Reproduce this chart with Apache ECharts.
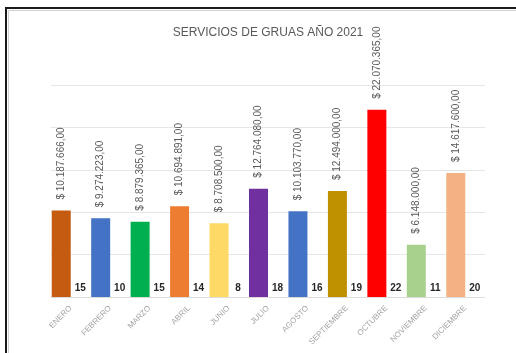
<!DOCTYPE html>
<html>
<head>
<meta charset="utf-8">
<script src="https://cdn.jsdelivr.net/npm/echarts@6/dist/echarts.min.js"></script>
<style>
  html, body { margin: 0; padding: 0; background: #ffffff; }
  #chart { width: 516px; height: 353px; }
</style>
</head>
<body>
<div id="chart"></div>
<script>
// Monthly tow-truck services, 2021
const meses = ['ENERO', 'FEBRERO', 'MARZO', 'ABRIL', 'JUNIO', 'JULIO', 'AGOSTO',
  'SEPTIEMBRE', 'OCTUBRE', 'NOVIEMBRE', 'DICIEMBRE'];
const montos = [10187666, 9274223, 8879365, 10694891, 8708500, 12764080, 10103770,
  12494000, 22070365, 6148000, 14617600];
const servicios = [15, 10, 15, 14, 8, 18, 16, 19, 22, 11, 20];
const colores = ['#C55A11', '#4472C4', '#00B050', '#ED7D31', '#FFD966', '#7030A0',
  '#4472C4', '#BF9000', '#FF0000', '#A9D18E', '#F4B183'];

const fontFam = '"Liberation Sans Narrow", "Liberation Sans", Arial, sans-serif';

function pesos(v) {
  const s = Math.round(v).toString().replace(/\B(?=(\d{3})+(?!\d))/g, '.');
  return '$ ' + s + ',00';
}

const chart = echarts.init(document.getElementById('chart'), null, { renderer: 'canvas' });
chart.setOption({
  backgroundColor: '#ffffff',
  animation: false,
  title: {
    text: 'SERVICIOS DE GRUAS AÑO 2021',
    left: 263,
    textAlign: 'center',
    top: 22,
    textStyle: { fontFamily: fontFam, fontSize: 12, fontWeight: 'normal', color: '#595959' }
  },
  graphic: [
    {
      type: 'rect',
      shape: { x: 6, y: 8, width: 620, height: 420 },
      style: { fill: 'none', stroke: '#1a1a1a', lineWidth: 2 },
      silent: true
    },
    {
      type: 'rect',
      shape: { x: 8.5, y: 10.5, width: 620, height: 420 },
      style: { fill: 'none', stroke: '#d0d0d0', lineWidth: 1 },
      silent: true
    }
  ],
  grid: { left: 51, right: 31, top: 85, bottom: 56 },
  xAxis: {
    type: 'category',
    data: meses,
    axisTick: { show: false },
    axisLine: { lineStyle: { color: '#d9d9d9', type: 'dotted' } },
    axisLabel: {
      rotate: 45,
      interval: 0,
      margin: 10,
      fontFamily: fontFam,
      fontSize: 8,
      color: '#a6a6a6'
    }
  },
  yAxis: {
    type: 'value',
    min: 0,
    max: 25000000,
    interval: 5000000,
    axisLabel: { show: false },
    axisLine: { show: false },
    axisTick: { show: false },
    splitLine: { lineStyle: { color: '#e6e6e6', width: 1 } }
  },
  series: [
    {
      name: 'Monto',
      type: 'bar',
      barWidth: 19,
      barGap: '0%',
      data: montos.map((v, i) => ({ value: v, itemStyle: { color: colores[i] } })),
      label: {
        show: true,
        position: 'top',
        rotate: 90,
        align: 'left',
        verticalAlign: 'middle',
        distance: 11,
        fontFamily: fontFam,
        fontSize: 10,
        color: '#595959',
        formatter: p => pesos(p.value)
      }
    },
    {
      name: 'Servicios',
      type: 'bar',
      barWidth: 19,
      data: servicios,
      itemStyle: { color: '#7f7f7f' },
      label: {
        show: true,
        position: 'top',
        distance: 4,
        fontFamily: fontFam,
        fontSize: 10,
        fontWeight: 'bold',
        color: '#262626',
        formatter: p => String(p.value)
      }
    }
  ]
});
</script>
</body>
</html>
